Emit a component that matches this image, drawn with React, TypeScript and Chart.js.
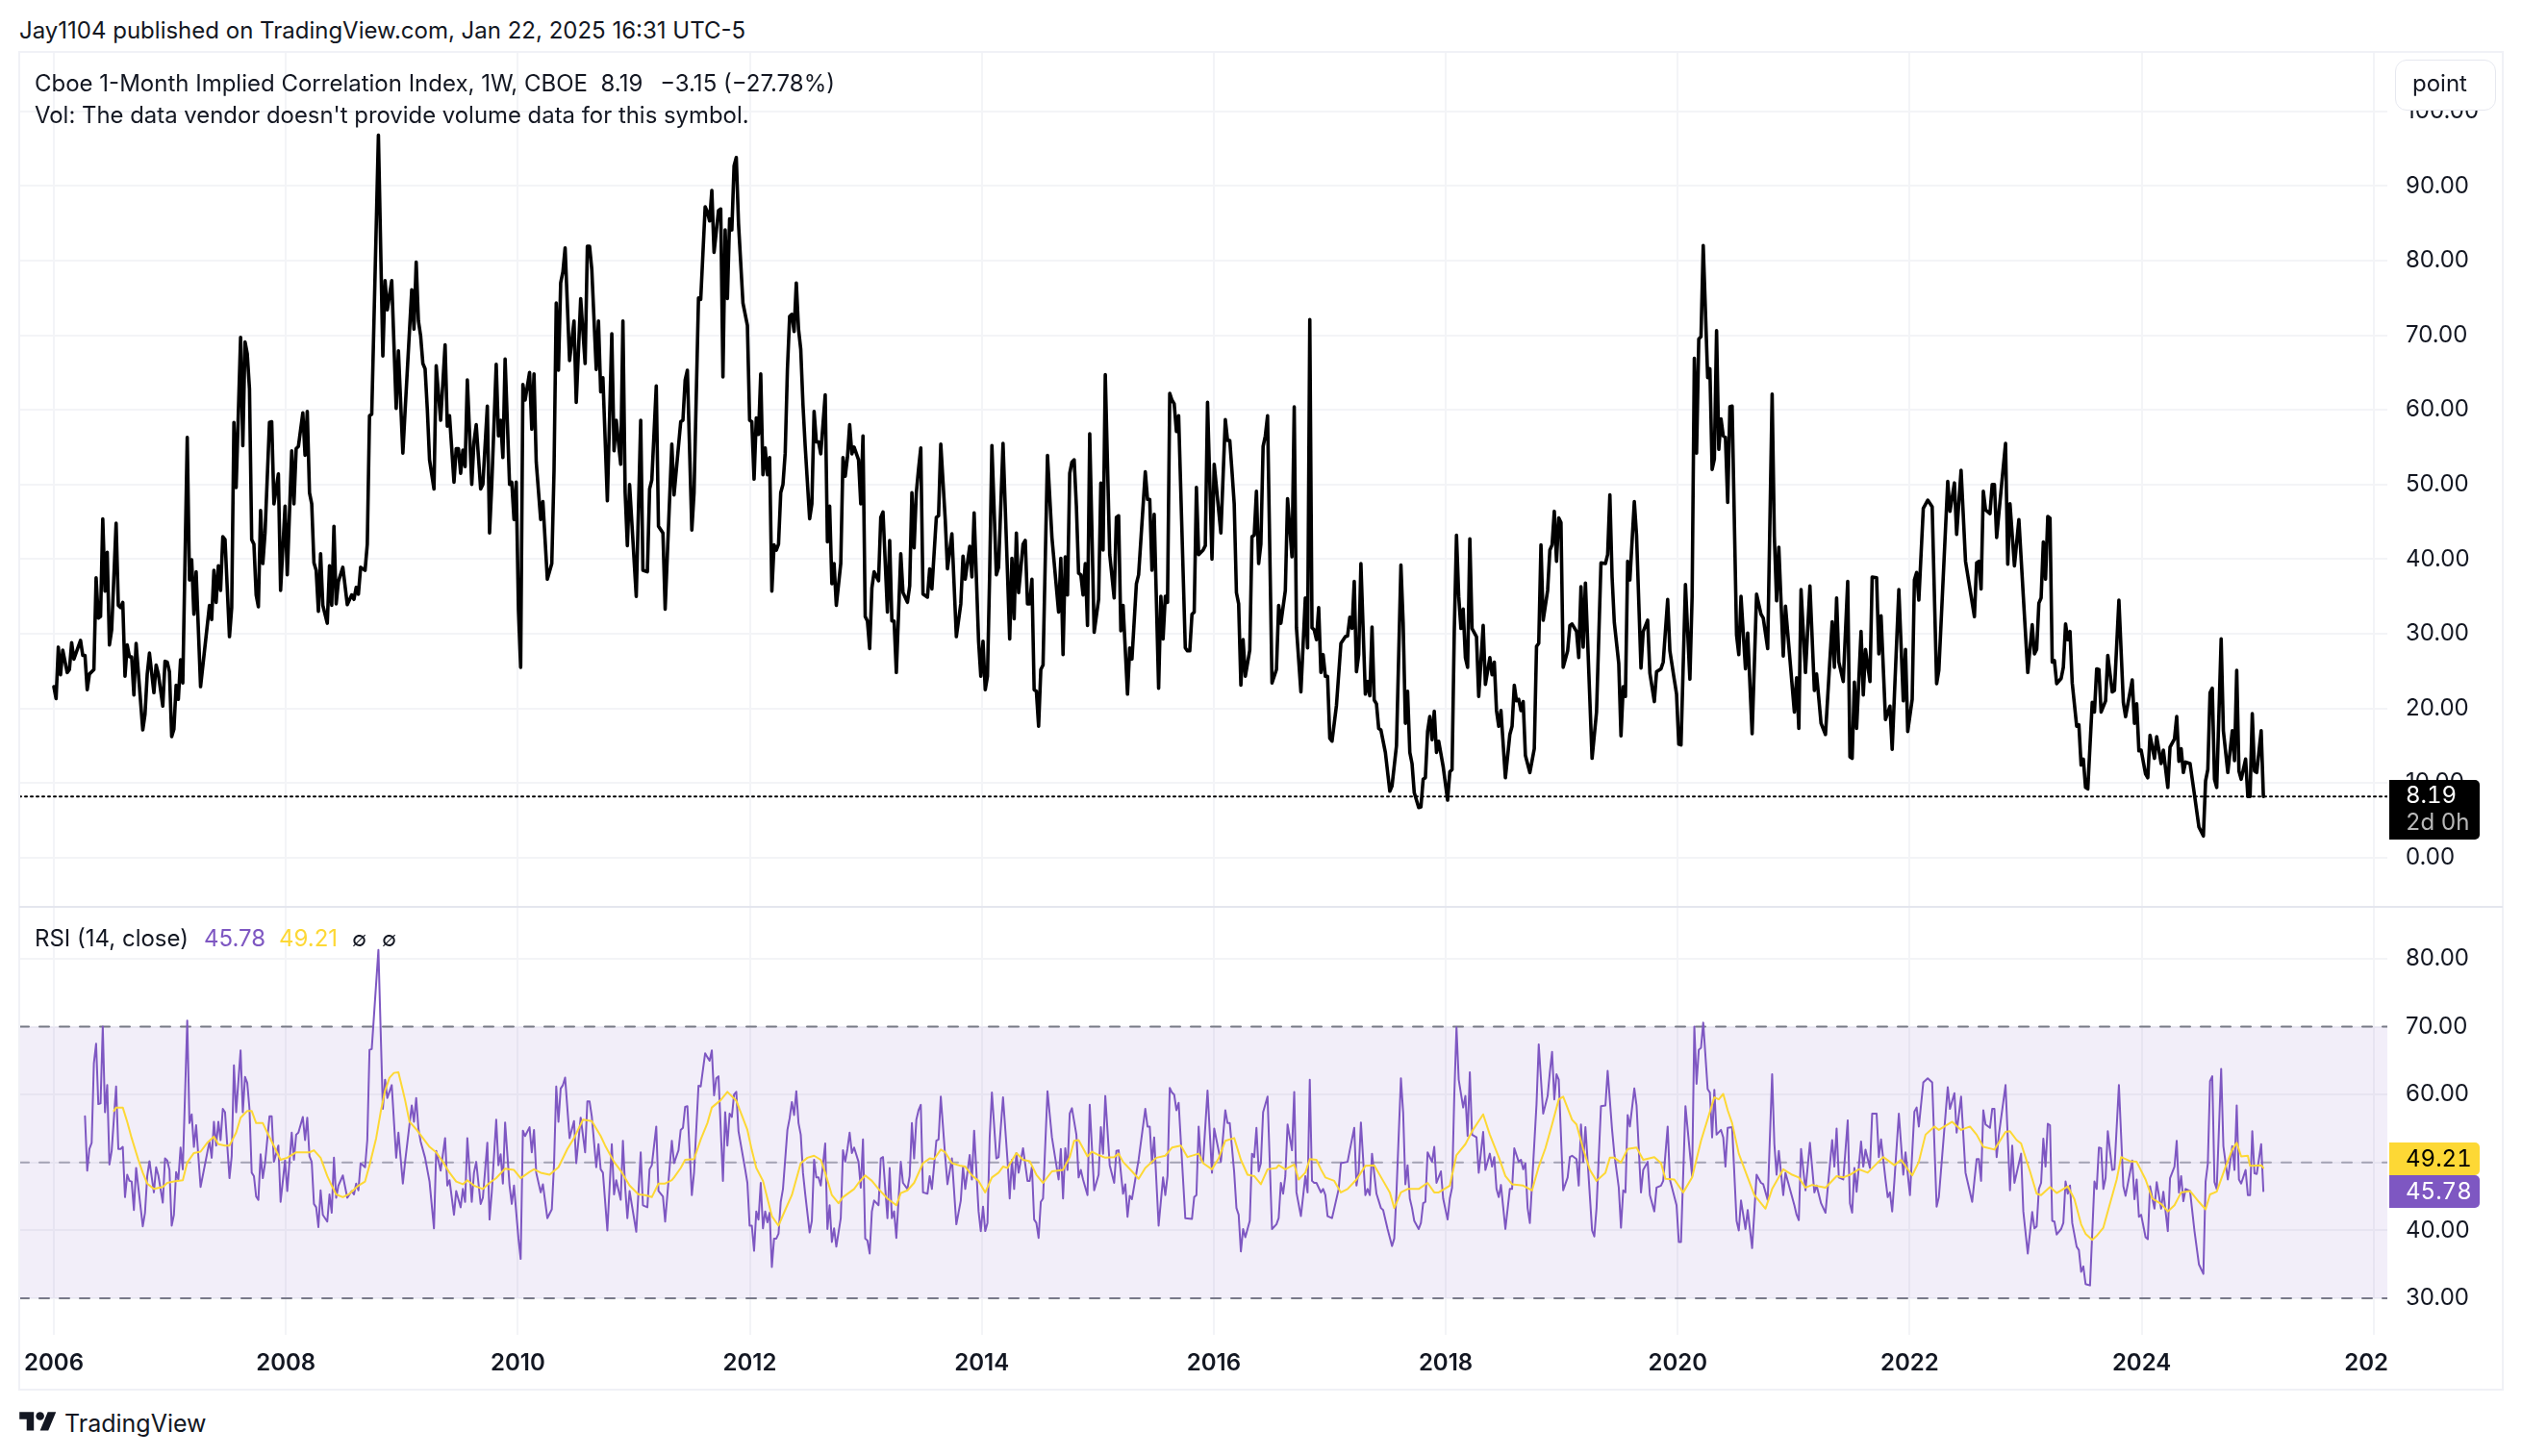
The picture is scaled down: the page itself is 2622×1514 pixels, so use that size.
import React, { useEffect, useRef } from "react";
import { Chart, registerables } from "chart.js";

Chart.register(...registerables);

// [weeks since the first bar in January 2006, value]
const closeSeries: [number, number][] = [
[0,22.9],[1,21.3],[2,28.2],[3,24.5],[4,27.8],[6,24.8],[7,25.2],[8,28.8],[9,26.6],[12,29.1],[13,27.1],[14,27.1],[15,22.5],[16,24.6],[18,25.2],[19,37.5],[20,32.1],[21,32.3],[22,45.4],[23,35.7],[24,40.9],[25,28.5],[26,30.5],[28,44.8],[29,33.8],[30,33.5],[31,34.2],[32,24.3],[33,28.5],[34,26.9],[35,26.9],[36,21.8],[37,28.7],[40,17.1],[41,19.2],[42,24.6],[43,27.4],[45,22.1],[46,25.8],[47,24.6],[49,20.3],[50,26.3],[51,26.2],[52,24.9],[53,16.2],[54,17.2],[55,23.1],[56,21.2],[57,26.5],[58,23.4],[60,56.3],[61,37.2],[62,39.9],[63,32.6],[64,38.3],[66,22.9],[70,33.8],[71,31.9],[72,38.5],[73,34.2],[74,39.1],[75,35.8],[76,43.0],[77,42.6],[79,29.6],[80,33.5],[81,58.3],[82,49.6],[84,69.7],[85,55.2],[86,69.1],[87,67.5],[88,62.8],[89,42.6],[90,42.0],[91,35.2],[92,33.6],[93,46.5],[94,39.4],[95,43.5],[97,58.3],[98,58.4],[99,47.4],[101,51.4],[102,35.8],[104,47.1],[105,37.9],[107,54.5],[108,47.4],[109,54.8],[110,55.1],[112,59.6],[113,53.9],[114,59.8],[115,48.9],[116,47.4],[117,39.5],[118,38.5],[119,33.0],[120,40.7],[121,33.8],[123,31.4],[124,39.1],[125,33.8],[126,44.4],[127,34.0],[128,37.0],[130,38.9],[132,33.9],[134,35.2],[135,34.6],[136,36.2],[137,35.3],[138,38.9],[140,38.5],[141,42.0],[142,59.2],[143,59.4],[146,96.8],[148,67.2],[149,77.3],[150,73.4],[152,77.3],[154,60.2],[155,67.9],[157,54.2],[158,59.8],[161,76.1],[162,70.8],[163,79.8],[164,71.9],[165,69.9],[166,66.2],[167,65.5],[168,60.1],[169,53.3],[171,49.4],[172,65.9],[174,58.6],[176,68.7],[177,57.8],[178,59.2],[180,50.3],[181,54.8],[182,54.8],[183,51.5],[184,54.6],[185,52.4],[186,64.0],[188,50.0],[189,55.7],[190,58.0],[192,49.4],[193,50.0],[195,60.5],[196,43.5],[197,50.0],[199,66.1],[200,56.5],[201,58.6],[202,53.6],[203,66.8],[205,50.0],[206,50.3],[207,45.3],[208,50.3],[209,33.2],[210,25.5],[211,63.4],[212,61.3],[214,65.0],[215,57.4],[216,64.8],[217,53.0],[219,45.3],[220,47.7],[222,37.3],[224,39.4],[225,51.8],[226,74.3],[227,65.3],[228,77.0],[229,78.5],[230,81.7],[232,66.6],[234,71.9],[235,61.0],[237,74.9],[239,66.2],[240,81.9],[241,81.9],[242,78.8],[244,65.4],[245,71.9],[246,62.4],[247,64.3],[249,47.8],[251,70.2],[252,54.5],[253,58.6],[255,52.7],[256,71.9],[257,48.9],[258,41.8],[259,50.0],[262,35.0],[264,58.6],[265,38.5],[267,38.3],[268,49.4],[269,50.6],[271,63.2],[272,44.4],[274,43.5],[275,33.3],[278,55.4],
[279,48.6],[282,58.4],[283,58.6],[284,64.0],[285,65.3],[287,43.9],[288,48.9],[290,75.0],[291,74.8],[293,87.2],[294,86.5],[295,85.3],[296,89.4],[297,81.1],[299,86.7],[300,86.9],[301,64.4],[302,84.1],[303,74.9],[304,85.6],[305,84.1],[306,92.7],[307,93.8],[308,85.0],[310,74.3],[312,71.3],[313,58.6],[314,58.4],[315,50.7],[316,58.9],[317,56.7],[318,64.8],[319,51.3],[320,54.9],[321,51.3],[322,53.6],[323,35.7],[324,41.9],[325,41.2],[326,42.0],[327,48.9],[328,50.0],[329,54.2],[330,65.4],[331,72.5],[332,72.8],[333,70.5],[334,77.0],[335,70.8],[336,68.1],[337,60.7],[338,55.1],[340,45.4],[341,47.4],[342,59.8],[343,55.7],[344,55.7],[345,54.1],[347,62.0],[348,42.3],[349,47.1],[350,36.7],[351,39.4],[352,33.8],[354,39.4],[355,53.6],[356,51.1],[357,53.6],[358,58.0],[359,54.1],[360,55.0],[362,53.3],[363,47.4],[364,56.5],[365,32.3],[366,31.7],[367,28.0],[368,36.1],[369,38.3],[371,37.1],[372,45.6],[373,46.3],[375,32.9],[376,42.5],[377,31.7],[378,31.7],[379,24.8],[381,40.7],[382,35.5],[384,34.2],[385,36.4],[386,48.9],[387,41.5],[388,48.9],[389,52.1],[390,54.9],[391,35.3],[393,34.9],[394,38.7],[395,36.0],[397,45.6],[398,45.8],[399,55.4],[401,45.3],[402,38.7],[404,43.4],[406,29.6],[408,34.0],[409,40.4],[410,37.3],[412,41.7],[413,37.6],[414,46.2],[416,29.0],[417,24.3],[418,29.0],[419,22.5],[420,24.3],[421,38.2],[422,55.2],[424,37.9],[425,38.9],[427,55.5],[429,38.2],[430,29.3],[431,40.1],[432,32.0],[433,43.5],[434,35.5],[436,42.0],[437,42.5],[438,34.0],[439,34.0],[440,37.3],[441,22.5],[442,22.3],[443,17.6],[444,25.2],[445,25.8],[447,53.9],[449,42.9],[452,32.9],[453,40.1],[454,27.2],[455,40.3],[456,35.2],[457,51.5],[458,53.0],[459,53.3],[460,47.1],[461,38.1],[462,37.9],[463,35.2],[464,39.4],[465,31.1],[466,56.8],[468,30.2],[470,34.6],[471,50.2],[472,41.2],[473,64.7],[475,40.6],[477,34.8],[478,45.6],[479,45.8],[480,30.4],[481,33.8],[483,21.9],[484,28.1],[485,26.6],[487,36.7],[488,37.9],[491,51.7],[492,48.0],[493,48.0],[494,38.5],[495,46.0],[497,22.7],[498,35.0],[499,29.3],[500,35.0],[501,34.2],[502,62.2],[503,61.3],[504,60.8],[505,57.1],[506,59.2],[509,28.1],[510,27.7],[511,27.7],[512,32.6],[513,32.9],[514,49.6],[515,40.6],[517,41.2],[518,41.8],[519,61.0],[521,40.0],[522,52.7],[525,43.5],[527,58.7],[528,55.9],[529,55.9],[530,51.8],[531,47.4],[532,35.5],[533,34.0],[534,23.1],[535,29.2],[536,24.3],[538,27.8],[539,43.0],[540,43.2],[541,49.1],[542,39.4],[543,42.0],[544,55.1],[545,56.5],[546,59.2],[548,23.4],[549,24.3],[550,25.2],[551,33.8],[552,31.4],[554,35.8],[555,48.1],[557,40.3],[558,60.4],[559,30.8],[561,22.2],[563,34.8],[564,28.1],[565,72.1],[566,30.8],[567,30.5],[568,29.2],[569,33.5],[570,24.8],[571,27.2],[572,24.3],[573,24.3],[574,16.0],[575,15.6],[577,20.4],[579,28.7],[581,29.6],
[582,29.7],[583,32.2],[584,30.7],[585,37.0],[586,24.9],[587,27.2],[588,39.4],[590,21.9],[591,23.6],[592,21.7],[593,30.9],[594,21.1],[595,20.6],[596,17.3],[597,17.1],[599,14.1],[601,8.9],[602,9.6],[604,15.0],[606,39.2],[607,31.5],[608,18.0],[609,22.3],[610,14.1],[611,12.6],[612,8.7],[614,6.7],[615,6.8],[616,10.5],[617,10.7],[618,16.9],[619,18.9],[620,15.8],[621,19.6],[622,14.1],[623,15.6],[625,12.2],[627,7.7],[628,11.5],[629,11.8],[630,30.3],[631,43.2],[632,35.0],[633,30.7],[634,33.3],[635,26.8],[636,25.5],[637,42.7],[638,30.7],[640,29.6],[641,21.6],[643,31.1],[644,23.2],[646,26.8],[647,24.5],[648,26.2],[649,19.7],[650,17.6],[651,19.7],[653,10.7],[655,16.5],[656,17.6],[657,23.1],[658,21.0],[659,21.2],[660,19.7],[661,20.9],[662,13.7],[664,11.4],[666,14.6],[667,28.3],[668,28.7],[669,41.9],[670,31.8],[672,35.8],[673,41.2],[674,41.9],[675,46.4],[676,39.7],[677,45.5],[678,44.9],[679,25.5],[681,27.7],[682,31.1],[683,31.3],[685,30.3],[686,26.8],[687,36.3],[688,28.2],[689,36.8],[692,13.3],[694,19.5],[696,39.5],[698,39.4],[699,40.6],[700,48.6],[701,37.6],[702,31.5],[704,26.0],[705,16.3],[706,22.9],[707,21.6],[708,39.7],[709,37.2],[711,47.7],[712,43.2],[714,25.4],[715,30.3],[717,31.8],[718,24.7],[720,20.9],[721,24.9],[723,25.3],[724,26.2],[726,34.6],[727,27.7],[729,23.8],[730,21.9],[731,15.2],[732,15.1],[734,36.6],[736,23.9],[737,35.0],
[738,66.9],[739,54.2],[740,69.5],[741,69.8],[742,82.0],[744,64.3],[745,65.5],[746,52.0],[747,53.4],[748,70.6],[749,54.7],[750,58.8],[751,56.5],[752,56.3],[753,47.6],[754,60.4],[755,60.5],[757,29.8],[758,27.2],[759,35.0],[761,25.3],[762,30.1],[764,16.6],[766,35.3],[768,32.6],[769,32.1],[771,28.0],[773,62.1],[774,43.0],[775,34.4],[776,41.6],[778,27.0],[779,33.7],[783,19.5],[784,24.1],[785,17.3],[786,35.9],[788,24.8],[790,36.4],[792,22.4],[793,24.6],[795,18.0],[797,16.5],
[800,31.6],[801,25.5],[802,34.8],[803,26.2],[805,23.6],[807,37.0],[808,13.5],[809,13.3],[810,23.5],[811,17.3],[813,30.3],[814,21.8],[815,27.9],[817,23.6],[818,37.6],[820,37.5],[821,27.3],[822,32.4],[824,18.5],[826,20.3],[827,14.5],[828,21.7],[830,35.9],[832,21.0],[833,27.9],[834,16.9],[836,21.2],[837,37.2],[838,38.2],[839,34.5],[841,46.8],[843,47.9],[845,47.0],[847,23.3],[848,25.1],[852,50.4],[853,46.4],[855,50.2],[856,43.3],[858,51.9],[860,39.7],[864,32.3],[865,39.5],[866,39.7],[867,36.0],[868,49.1],[869,46.6],[871,46.1],[872,50.0],[873,50.0],[874,42.9],[875,46.1],[878,55.5],[879,39.3],[880,47.4],[882,39.1],[884,45.3],[886,35.0],[888,24.8],[890,31.2],[891,27.3],[892,27.9],[893,34.1],[894,34.8],[895,42.3],[896,37.3],[897,45.7],[898,45.5],[899,26.2],[900,26.4],[901,23.3],[903,24.0],[904,25.5],[905,31.3],[906,29.2],[907,30.3],[908,23.4],[910,17.6],[911,17.8],[912,12.4],[913,13.2],[914,9.4],[915,9.2],[917,20.8],[918,19.5],[919,25.3],[920,25.2],[921,19.5],[923,21.0],[924,27.1],[926,22.2],[927,22.4],[929,34.5],[931,20.8],[932,18.9],[935,23.8],[936,18.0],[937,20.6],[938,14.3],[939,14.4],[941,11.2],[942,10.7],[943,16.4],[945,13.3],[946,16.2],[948,12.6],[949,14.4],[951,9.4],[952,14.8],[954,15.9],[955,18.9],[956,12.9],[957,14.6],[958,11.4],[959,12.8],[961,12.6],[963,8.4],[965,4.1],[967,2.9],[968,10.3],[969,11.8],[970,22.1],[971,22.7],[972,10.5],[973,9.4],[975,29.3],[976,17.0],[978,11.4],[980,17.0],[981,13.0],[982,25.1],[983,11.6],[984,10.5],[986,13.2],[987,8.2],[988,8.2],[989,19.3],[990,11.6],[991,11.4],[993,17.0],[994,8.19]
];

const rsiSeries: [number, number][] = [
[14,56.8],[15,48.8],[16,52.0],[17,52.9],[18,64.6],[19,67.5],[20,58.6],[21,58.7],[22,70.0],[23,57.4],[24,61.4],[25,49.7],[26,51.7],[28,61.2],[29,52.0],[30,52.0],[31,52.3],[32,44.9],[33,48.2],[34,47.3],[35,47.2],[36,43.0],[37,49.2],[40,40.6],[41,42.6],[42,48.0],[43,50.2],[45,45.6],[46,49.3],[47,48.1],[49,44.1],[50,50.6],[51,50.3],[52,48.9],[53,40.7],[54,42.3],[55,48.6],[56,47.5],[57,52.2],[58,49.0],[60,70.9],[61,55.8],[62,57.1],[63,52.3],[64,55.5],[66,46.4],[70,53.1],[71,50.7],[72,56.0],[73,52.5],[74,56.0],[75,53.3],[76,57.9],[77,57.4],[79,47.7],[80,50.9],[81,64.3],[82,57.4],[84,66.5],[85,57.4],[86,62.6],[87,61.7],[88,57.9],[89,48.5],[90,48.0],[91,45.0],[92,44.5],[93,51.2],[94,47.7],[95,49.9],[97,56.8],[98,56.8],[99,50.1],[101,52.5],[102,44.2],[104,50.3],[105,45.8],[107,54.4],[108,50.4],[109,54.1],[110,54.4],[112,56.7],[113,53.3],[114,56.6],[115,50.9],[116,50.1],[117,43.9],[118,43.4],[119,40.5],[120,45.9],[121,42.3],[123,41.3],[124,45.3],[125,42.6],[126,50.7],[127,44.8],[128,46.6],[130,48.1],[132,44.8],[134,45.8],[135,45.3],[136,46.9],[137,45.9],[138,49.9],[140,49.3],[141,53.3],[142,66.6],[143,66.7],[146,81.3],[148,57.9],[149,62.2],[150,59.5],[152,61.4],[154,50.7],[155,54.4],[157,46.9],[158,50.1],[161,58.4],[162,56.0],[163,59.5],[164,55.0],[165,53.1],[167,50.7],[169,47.2],[171,40.3],[172,51.7],[174,48.8],[176,53.6],[177,46.6],[178,47.4],[180,42.3],[181,45.8],[183,43.4],[184,46.1],[185,44.2],[186,53.6],[188,44.2],[189,48.5],[190,50.1],[192,43.9],[193,44.8],[195,52.9],[196,41.6],[197,45.6],[199,56.3],[200,49.6],[201,51.2],[202,46.9],[203,55.9],[205,46.6],[206,43.9],[207,46.6],[209,38.8],[210,35.8],[211,54.7],[212,53.9],[214,55.2],[215,51.5],[216,54.8],[217,48.5],[219,45.6],[220,46.8],[222,41.8],[224,43.1],[225,49.6],[226,61.2],[227,56.0],[228,60.9],[229,61.4],[230,62.5],[232,53.6],[234,56.1],[235,49.9],[237,56.6],[239,51.5],[240,59.0],[241,59.0],[242,56.8],[244,49.3],[245,52.7],[246,49.0],[247,48.5],[249,40.0],[251,52.7],[252,45.3],[253,47.4],[255,44.5],[256,53.2],[257,46.4],[258,41.8],[259,45.8],[262,39.8],[264,51.5],[265,43.7],[267,43.4],[268,49.0],[269,49.6],[271,55.3],[272,45.8],[274,45.0],[275,41.3],[278,53.2],
[279,49.9],[281,51.8],[282,54.8],[283,55.1],[284,58.2],[285,58.3],[287,45.2],[288,48.5],[290,61.3],[291,61.2],[293,66.1],[294,65.5],[295,65.0],[296,66.5],[297,59.9],[298,62.4],[299,62.7],[301,47.3],[302,57.4],[303,52.5],[304,57.2],[305,56.7],[306,60.0],[307,60.4],[308,54.6],[311,49.0],[312,47.0],[313,40.7],[314,40.7],[315,37.0],[316,42.8],[317,41.6],[318,47.0],[319,40.3],[320,42.8],[321,41.2],[322,42.6],[323,34.6],[324,38.8],[325,38.8],[326,39.5],[327,44.2],[328,46.1],[330,54.8],[331,56.5],[332,58.9],[333,57.0],[334,60.5],[335,55.8],[336,54.1],[337,48.5],[338,45.4],[340,39.7],[341,41.4],[342,50.4],[343,47.8],[344,47.8],[345,46.6],[347,52.8],[348,40.2],[349,43.7],[350,38.3],[351,40.3],[352,37.6],[354,41.8],[355,51.8],[356,50.1],[357,52.0],[358,54.4],[359,51.4],[360,52.2],[362,50.1],[363,46.3],[364,53.4],[365,38.8],[366,38.5],[367,36.6],[368,42.8],[369,44.4],[371,43.7],[372,50.6],[373,50.8],[375,41.8],[376,49.2],[377,41.8],[378,42.8],[379,38.9],[381,50.1],[382,47.0],[384,46.1],[385,48.0],[386,55.8],[387,50.6],[388,56.3],[389,57.7],[390,58.5],[391,45.6],[393,45.4],[394,48.0],[395,46.1],[397,53.2],[398,53.4],[399,59.7],[401,50.8],[402,46.8],[404,50.6],[406,40.9],[408,44.4],[409,49.4],[410,46.1],[412,51.1],[413,47.5],[414,54.7],[416,42.8],[417,39.9],[418,43.5],[419,39.9],[420,41.1],[421,53.7],[422,60.3],[424,50.6],[425,50.8],[427,59.6],[429,50.4],[430,44.7],[431,50.4],[432,46.1],[433,51.4],[434,48.5],[436,52.1],[438,47.3],[439,47.3],[440,49.4],[441,41.6],[442,41.1],[443,38.9],[444,44.2],[445,44.7],[447,60.5],[449,53.7],[452,47.5],[453,52.0],[454,44.7],[455,52.1],[456,48.9],[457,57.2],[458,58.0],[460,54.1],[461,47.8],[462,48.9],[463,47.5],[465,45.2],[466,58.5],[468,45.9],[470,48.2],[471,55.2],[472,51.3],[473,59.8],[475,49.6],[477,47.0],[478,51.7],[479,51.8],[481,45.4],[482,46.8],[483,42.0],[484,45.1],[485,44.6],[488,50.4],[491,57.9],[492,55.3],[493,55.3],[494,49.9],[495,53.7],[497,40.7],[499,47.8],[500,45.2],[501,48.0],[502,61.0],[503,60.3],[504,60.0],[505,57.7],[506,58.8],[509,41.8],[512,41.7],[513,44.9],[514,45.2],[515,55.3],[516,50.4],[517,50.1],[519,60.6],[521,48.5],[522,55.0],[525,50.1],[527,57.7],[528,55.8],[529,55.8],[530,52.2],[531,48.5],[532,43.3],[533,42.3],[534,36.9],[535,40.2],[536,39.0],[538,41.4],[539,51.3],[540,50.8],[541,55.1],[542,48.7],[543,49.9],[544,57.4],[546,59.7],[548,40.2],[550,40.9],[551,41.8],[552,47.0],[553,45.4],[554,48.0],[555,55.6],[557,51.8],[558,60.4],[559,45.6],[561,42.1],[563,48.0],[564,45.6],[565,62.2],[566,47.3],[567,47.0],[568,47.0],[570,45.6],[571,46.1],[572,45.2],[573,42.1],[575,41.8],[578,46.1],[579,49.9],
[582,50.1],[583,51.8],[585,55.1],[586,46.6],[587,48.7],[588,55.9],[590,45.2],[591,46.1],[592,45.2],[593,51.3],[595,45.4],[597,43.3],[598,43.0],[600,40.2],[602,37.7],[603,38.8],[604,45.6],[606,62.4],[607,57.4],[608,46.8],[609,49.6],[610,44.7],[611,43.3],[612,41.4],[614,40.2],[615,41.1],[616,44.0],[617,44.2],[618,51.5],[620,50.1],[621,52.3],[622,47.0],[624,48.7],[625,44.7],[627,41.6],[628,44.7],[629,46.3],[630,59.8],[631,69.9],[632,62.2],[634,58.1],[635,59.8],[636,53.9],[637,63.3],[638,54.1],[640,53.7],[641,48.5],[643,54.5],[644,48.9],[646,51.3],[647,49.4],[648,50.8],[649,46.1],[650,44.9],[651,46.7],[653,40.2],[655,46.1],[656,46.1],[657,52.1],[659,50.1],[660,50.4],[661,49.0],[662,49.9],[663,43.3],[664,41.1],[667,58.6],[668,67.4],[670,57.2],[672,59.8],[673,63.3],[674,66.3],[675,59.3],[676,63.0],[677,62.2],[679,45.9],[681,47.8],[682,50.8],[683,51.0],[685,50.5],[686,46.6],[687,55.6],[688,50.1],[689,55.2],[692,40.0],[693,39.1],[694,43.3],[696,58.3],[698,58.4],[699,63.5],[701,54.8],[702,51.3],[704,46.3],[705,40.4],[706,45.9],[707,45.6],[708,57.0],[709,55.3],[711,60.9],[712,58.4],[714,45.6],[715,48.9],[717,50.1],[718,45.2],[720,42.8],[721,46.3],[723,46.6],[724,47.3],[726,55.3],[727,47.5],[730,43.7],[731,38.3],[732,38.3],[734,58.3],[737,48.0],[738,70.0],[739,61.6],[740,66.6],[741,66.9],[742,70.6],[744,60.8],[745,60.3],[746,53.7],[747,60.7],[748,54.1],[750,54.8],[751,53.7],[752,49.4],[753,55.1],[755,55.2],[757,41.4],[758,40.0],[759,44.4],[761,40.2],[762,43.0],[764,37.4],[766,48.2],[768,47.0],[769,46.8],[771,44.5],[773,63.0],[774,52.7],[775,48.2],[776,51.7],[778,45.2],[779,48.5],[783,43.7],[784,42.3],[785,41.5],[786,52.0],[788,45.9],[790,52.9],[792,45.6],[793,46.6],[795,44.0],[797,42.6],[800,53.3],[801,49.4],[802,55.0],[803,47.8],[805,47.5],[807,56.2],[808,44.0],[809,42.6],[810,49.2],[811,45.7],[813,53.1],[814,49.4],[815,51.9],[817,49.2],[818,57.2],[820,57.2],[821,50.8],[822,53.4],[824,47.5],[825,44.9],[826,45.6],[827,42.8],[828,47.3],[830,57.2],[832,48.2],[833,51.5],[835,45.2],[837,57.5],[838,58.1],[839,55.3],[841,61.8],[843,62.4],[845,61.8],[847,43.5],[848,44.9],[852,61.1],[853,57.9],[855,60.2],[856,54.4],[858,59.7],[860,48.5],[863,44.2],[865,50.5],[866,50.5],[867,47.3],[868,57.7],[869,55.6],[871,55.1],[872,57.9],[873,57.9],[874,50.8],[875,54.1],[878,61.4],[880,45.9],[881,52.5],[882,47.0],[885,51.3],
[886,42.8],[888,36.6],[890,42.7],[891,40.3],[892,40.6],[893,46.1],[894,47.0],[895,53.5],[896,49.4],[897,55.7],[898,55.5],[899,41.4],[900,41.3],[901,39.4],[903,40.2],[904,41.1],[905,47.2],[906,45.4],[907,46.6],[908,41.1],[910,37.6],[911,37.1],[912,33.9],[913,34.7],[914,32.1],[916,31.9],[918,47.2],[919,46.1],[920,52.2],[921,52.1],[922,46.1],[923,47.7],[924,54.6],[926,48.9],[927,49.0],[929,61.4],[931,46.5],[932,45.1],[935,50.3],[936,44.6],[937,47.5],[938,42.0],[939,42.3],[941,39.0],[942,38.7],[943,46.5],[945,43.2],[946,47.1],[948,43.2],[949,45.7],[951,39.9],[952,47.7],[954,49.4],[955,53.2],[956,45.6],[957,48.0],[958,44.3],[959,46.1],[961,45.8],[963,39.9],[965,35.0],[967,33.6],[968,47.2],[969,49.8],[970,62.0],[971,62.7],[972,47.1],[973,46.1],[975,63.8],[976,52.4],[978,47.5],[980,52.4],[981,48.9],[982,58.4],[983,47.5],[984,46.9],[986,48.9],[987,45.2],[988,45.2],[989,54.6],[990,48.4],[991,48.3],[993,52.7],[994,45.78]
];

const rsiAverage: [number, number][] = [
[27,57.6],[28,58.1],[31,58.1],[33,56.0],[35,53.6],[38,50.4],[40,48.5],[42,46.9],[45,46.1],[49,46.4],[51,47.0],[54,47.2],[58,47.4],[60,50.0],[63,51.4],[66,51.6],[69,52.9],[72,53.8],[74,52.7],[77,52.5],[79,52.5],[82,54.4],[84,56.6],[87,57.6],[89,57.6],[91,55.8],[94,55.8],[96,54.4],[98,53.1],[102,50.4],[105,50.7],[109,51.5],[115,51.5],[117,51.8],[120,50.7],[123,48.0],[125,46.6],[127,45.3],[130,44.9],[133,45.4],[137,46.6],[140,47.2],[142,49.6],[145,53.6],[147,57.4],[149,60.6],[151,62.5],[153,63.2],[155,63.3],[157,60.6],[158,59.2],[160,56.0],[163,54.9],[166,53.6],[169,52.3],[172,51.5],[175,50.1],[178,48.5],[181,47.2],[184,46.8],[186,47.4],[189,46.6],[193,46.1],[196,47.0],[199,47.7],[203,49.1],[207,48.9],[210,47.7],[214,48.6],[216,49.0],[219,48.5],[223,48.2],[227,49.3],[231,52.0],[234,53.6],[238,56.3],[242,56.1],[246,53.9],[248,52.5],[252,50.1],[255,48.8],[259,46.6],[263,45.3],[266,45.2],[269,44.9],[272,46.9],[275,46.9],[278,47.4],
[279,47.8],[282,49.2],[284,50.4],[288,50.5],[291,53.4],[294,55.8],[296,58.1],[300,59.2],[303,60.4],[307,59.1],[312,54.8],[314,51.8],[316,49.2],[319,47.3],[323,42.1],[326,40.7],[329,43.0],[332,45.2],[336,49.9],[339,50.7],[342,51.0],[345,50.4],[347,48.5],[350,45.2],[353,44.0],[355,44.9],[360,46.1],[362,47.0],[365,48.1],[368,47.3],[371,46.1],[375,44.7],[379,43.7],[381,45.5],[384,45.9],[387,47.0],[391,49.9],[394,50.6],[396,50.5],[399,51.9],[401,51.5],[404,49.9],[408,49.5],[410,49.4],[413,48.1],[416,47.3],[419,45.6],[422,47.8],[425,48.5],[427,49.4],[429,49.2],[433,51.4],[436,50.4],[439,50.2],[442,48.2],[445,47.0],[449,48.7],[454,48.9],[457,50.8],[459,53.2],[461,53.3],[465,50.9],[467,51.6],[470,51.1],[473,50.7],[477,50.8],[479,51.3],[481,50.1],[485,48.7],[488,47.6],[491,49.2],[496,50.7],[500,51.0],[503,52.2],[507,52.5],[510,50.8],[515,51.3],[517,49.9],[521,49.0],[524,50.6],[527,53.2],[531,53.6],[534,50.4],[537,48.2],[540,48.0],[543,46.8],[546,49.0],[550,49.2],[551,49.6],[554,49.0],[558,49.7],[560,47.5],[563,48.5],[565,50.5],[568,50.4],[570,49.0],[572,47.8],[576,47.3],[579,45.6],
[582,46.1],[586,47.5],[590,49.5],[594,49.6],[598,47.3],[601,45.6],[603,43.3],[606,45.6],[609,46.1],[614,46.1],[618,47.0],[621,45.6],[623,45.6],[628,46.6],[631,51.1],[635,52.7],[638,54.6],[643,57.1],[646,54.1],[650,50.8],[653,48.0],[656,46.8],[661,46.6],[665,45.9],[668,49.4],[671,52.1],[674,55.6],[677,59.3],[679,59.7],[683,56.3],[685,55.6],[688,52.0],[691,48.9],[694,47.3],[698,48.5],[700,50.7],[702,50.7],[705,50.0],[708,52.0],[712,52.2],[715,50.4],[720,50.8],[723,49.9],[725,47.6],[729,47.5],[733,45.6],[737,47.8],[741,53.2],[747,59.6],[749,59.3],[751,60.1],[753,57.7],[755,55.8],[758,51.3],[762,47.8],[765,45.2],[770,43.2],[773,46.1],[778,49.0],[782,48.2],[785,47.8],[788,46.3],[791,46.7],[797,46.3],[802,48.0],[805,47.8],[808,48.2],[812,49.0],[816,48.5],[823,50.8],[828,49.6],[831,50.4],[836,48.1],[839,50.1],[842,54.1],[846,55.3],[848,54.8],[854,56.0],[858,54.8],[862,55.3],[865,54.1],[868,52.3],[873,51.9],[878,54.5],[880,54.6],[883,53.3],[885,52.8],
[889,48.7],[892,45.4],[894,45.2],[898,46.4],[901,45.5],[906,46.5],[909,44.6],[912,40.9],[914,39.5],[917,38.6],[919,39.2],[922,40.4],[924,42.8],[928,47.5],[930,50.8],[934,50.2],[937,50.1],[941,47.5],[944,44.7],[948,43.9],[951,42.8],[954,43.7],[957,45.6],[961,45.8],[965,44.2],[968,43.1],[970,45.3],[973,45.7],[977,49.4],[980,51.9],[982,52.9],[984,50.9],[987,51.0],[988,49.5],[993,49.6],[994,49.21]
];

const yearLabels = [2006, 2008, 2010, 2012, 2014, 2016, 2018, 2020, 2022, 2024, 2026];
const WEEKS_PER_YEAR = 52.18;
const priceTicks = [0, 10, 20, 30, 40, 50, 60, 70, 80, 90, 100];
const rsiTicks = [30, 40, 50, 60, 70, 80];
const lastClose = 8.19;
const rsiBands = { upper: 70, middle: 50, lower: 30 };

const FONT = "Inter, 'Noto Sans', sans-serif";
const INK = "#131722";
const GRID = "#f3f4f7";
const PURPLE = "#7e57c2";
const YELLOW = "#fdd835";
const X_MIN = -15.58;
const X_MAX = 1049.76;
const Y_AXIS_W = 120;

const pts = (s: [number, number][]) =>
  [...s].sort((a, b) => a[0] - b[0]).map(([x, y]) => ({ x, y }));
const hline = (y: number) => [{ x: X_MIN, y }, { x: X_MAX, y }];

const noPadding = (s: any) => {
  s.paddingLeft = s.paddingRight = s.paddingTop = s.paddingBottom = 0;
};

function xScale(showLabels: boolean) {
  return {
    type: "linear",
    min: X_MIN,
    max: X_MAX,
    afterBuildTicks: (s: any) => {
      s.ticks = yearLabels.map((y) => ({ value: (y - 2006) * WEEKS_PER_YEAR }));
    },
    afterFit: (s: any) => {
      s.height = showLabels ? 56 : 0;
      noPadding(s);
    },
    grid: { color: GRID, lineWidth: 2, drawTicks: false },
    border: { display: false },
    ticks: {
      display: showLabels,
      autoSkip: false,
      maxRotation: 0,
      padding: 15,
      color: INK,
      font: { family: FONT, size: 24, weight: "600" },
      callback: (v: number) => String(Math.round(v / WEEKS_PER_YEAR + 2006)),
    },
  };
}

function yScale(min: number, max: number, values: number[]) {
  return {
    type: "linear",
    position: "right",
    min,
    max,
    afterBuildTicks: (s: any) => {
      s.ticks = values.map((value) => ({ value }));
    },
    afterFit: (s: any) => {
      s.width = Y_AXIS_W;
      noPadding(s);
    },
    grid: { color: GRID, lineWidth: 2, drawTicks: false },
    border: { display: false },
    ticks: {
      autoSkip: false,
      padding: 19,
      color: INK,
      font: { family: FONT, size: 24 },
      callback: (v: number) => Number(v).toFixed(2),
    },
  };
}

const baseOptions = {
  responsive: false,
  animation: false,
  devicePixelRatio: 1,
  layout: { padding: 0 },
  plugins: { legend: { display: false }, tooltip: { enabled: false }, title: { display: false } },
  elements: { point: { radius: 0 }, line: { tension: 0, borderJoinStyle: "round", borderCapStyle: "round" } },
};

function PriceChart() {
  const ref = useRef<HTMLCanvasElement>(null);
  useEffect(() => {
    const chart = new Chart(ref.current!, {
      type: "line",
      data: {
        datasets: [
          { data: pts(closeSeries), borderColor: "#000000", borderWidth: 3.6, order: 0 },
          { data: hline(lastClose), borderColor: "#000000", borderWidth: 2, borderDash: [2, 4], order: 1 },
        ],
      },
      options: {
        ...baseOptions,
        scales: { x: xScale(false), y: yScale(-6.6, 107.95, priceTicks) },
      } as any,
    } as any);
    return () => chart.destroy();
  }, []);
  return (
    <canvas
      ref={ref}
      width={2582}
      height={889}
      style={{ position: "absolute", left: 20, top: 54, width: 2582, height: 889 }}
    />
  );
}

function RsiChart() {
  const ref = useRef<HTMLCanvasElement>(null);
  useEffect(() => {
    const dashed = { borderWidth: 2, borderDash: [10, 11], order: 3 };
    const chart = new Chart(ref.current!, {
      type: "line",
      data: {
        datasets: [
          { data: pts(rsiAverage), borderColor: YELLOW, borderWidth: 2, order: 0 },
          { data: pts(rsiSeries), borderColor: PURPLE, borderWidth: 2, order: 1 },
          {
            data: hline(rsiBands.upper),
            borderColor: "#787b86",
            fill: { target: { value: rsiBands.lower } },
            backgroundColor: "rgba(126,87,194,0.1)",
            ...dashed,
          },
          { data: hline(rsiBands.middle), borderColor: "rgba(120,123,134,0.6)", ...dashed },
          { data: hline(rsiBands.lower), borderColor: "#787b86", ...dashed },
        ],
      },
      options: {
        ...baseOptions,
        scales: { x: xScale(true), y: yScale(24.62, 87.65, rsiTicks) },
      } as any,
    } as any);
    return () => chart.destroy();
  }, []);
  return (
    <canvas
      ref={ref}
      width={2582}
      height={501}
      style={{ position: "absolute", left: 20, top: 943, width: 2582, height: 501 }}
    />
  );
}

const Txt = (p: {
  x: number;
  y: number;
  size?: number;
  color?: string;
  weight?: number;
  children: React.ReactNode;
}) => (
  <div
    style={{
      position: "absolute",
      left: p.x,
      top: p.y - 20,
      height: 40,
      lineHeight: "40px",
      fontSize: p.size ?? 24,
      fontWeight: p.weight ?? 400,
      color: p.color ?? INK,
      whiteSpace: "pre",
      fontFamily: FONT,
    }}
  >
    {p.children}
  </div>
);

const Tag = (p: { y: number; h: number; bg: string; children: React.ReactNode }) => (
  <div
    style={{
      position: "absolute",
      left: 2484,
      top: p.y,
      width: 94,
      height: p.h,
      background: p.bg,
      borderRadius: "0 5px 5px 0",
      fontVariantNumeric: "tabular-nums",
    }}
  >
    {p.children}
  </div>
);

export default function App() {
  return (
    <div
      style={{
        position: "absolute",
        left: 0,
        top: 0,
        width: 2622,
        height: 1514,
        background: "#ffffff",
        overflow: "hidden",
        fontFamily: FONT,
      }}
    >
      <Txt x={20} y={32}>Jay1104 published on TradingView.com, Jan 22, 2025 16:31 UTC-5</Txt>

      <PriceChart />
      <RsiChart />

      {/* the axis clips the partly hidden 2026 label */}
      <div style={{ position: "absolute", left: 2482, top: 1392, width: 119, height: 50, background: "#fff" }} />

      {/* outer frame and pane divider */}
      <div
        style={{
          position: "absolute",
          left: 19,
          top: 53,
          width: 2580,
          height: 1389,
          border: "2px solid #f0f1f6",
          pointerEvents: "none",
        }}
      />
      <div style={{ position: "absolute", left: 20, top: 942, width: 2582, height: 2, background: "#e4e6ee" }} />

      <Txt x={36} y={87}>{"Cboe 1-Month Implied Correlation Index, 1W, CBOE  8.19  \u2009\u22123.15 (\u221227.78%)"}</Txt>
      <Txt x={36} y={120} size={23.9}>Vol: The data vendor doesn't provide volume data for this symbol.</Txt>

      <Txt x={36} y={976}>RSI (14, close)</Txt>
      <Txt x={212} y={976} color={PURPLE}>45.78</Txt>
      <Txt x={290} y={976} color={YELLOW}>49.21</Txt>
      <Txt x={366} y={976} size={22}>{"\u2205"}</Txt>
      <Txt x={397} y={976} size={22}>{"\u2205"}</Txt>

      <div
        style={{
          position: "absolute",
          left: 2490,
          top: 62,
          width: 103,
          height: 51,
          background: "#fff",
          border: "1px solid #e6e8ef",
          borderRadius: 12,
        }}
      />
      <Txt x={2508} y={87}>point</Txt>

      <Tag y={811} h={62} bg="#000000">
        <div style={{ position: "absolute", left: 17, top: -4, lineHeight: "40px", fontSize: 24, color: "#fff" }}>8.19</div>
        <div style={{ position: "absolute", left: 17, top: 24, lineHeight: "40px", fontSize: 24, color: "#b8b8b8" }}>2d 0h</div>
      </Tag>
      <Tag y={1188} h={34} bg={YELLOW}>
        <div style={{ position: "absolute", left: 17, top: -3, lineHeight: "40px", fontSize: 24, color: "#000" }}>49.21</div>
      </Tag>
      <Tag y={1222} h={34} bg={PURPLE}>
        <div style={{ position: "absolute", left: 17, top: -3, lineHeight: "40px", fontSize: 24, color: "#fff" }}>45.78</div>
      </Tag>

      <svg
        viewBox="0 0 36 28"
        style={{ position: "absolute", left: 20, top: 1464, width: 39, height: 30 }}
      >
        <path d="M14 22H7V11H0V4h14v18zM28 22h-8l7.5-18h8L28 22z" fill="#131722" />
        <circle cx="20" cy="8" r="4" fill="#131722" />
      </svg>
      <Txt x={67} y={1480} size={25}>TradingView</Txt>
    </div>
  );
}
